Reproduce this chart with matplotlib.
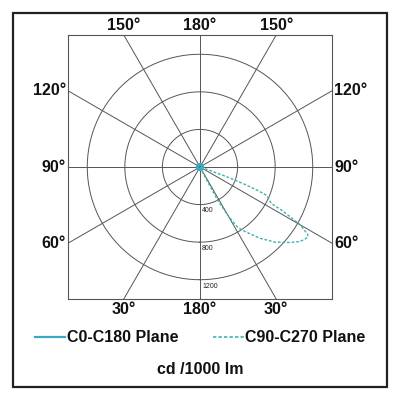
import numpy as np
import matplotlib
matplotlib.use("Agg")
import matplotlib.pyplot as plt
from matplotlib.lines import Line2D
from matplotlib.patches import Rectangle

# ---- data ----
ring_values = [400, 800, 1200]
ring_labels = ["400", "800", "1200"]
spoke_angles = [0, 30, 60, 90, 120, 150, 180, 210, 240, 270, 300, 330]
top_labels = ["150°", "180°", "150°"]
side_labels = ["120°", "90°", "60°"]
bottom_labels = ["30°", "180°", "30°"]

# C90-C270 plane (right side only), gamma measured from nadir
c90_gamma = [0, 10, 20, 25, 27, 28, 30, 32, 35, 40, 45, 50, 53, 55, 57, 58,
             60, 62, 63, 65, 67, 68, 69, 70, 71, 72, 75, 80, 90]
c90_cd = [0, 0, 0, 20, 150, 400, 600, 760, 840, 990, 1130, 1250, 1320, 1350,
          1370, 1350, 1230, 1000, 850, 810, 760, 650, 480, 300, 100, 0, 0, 0, 0]

# C0-C180 plane: tiny intensity around the centre
c0_gamma = [-180, -150, -120, -90, -60, -30, 0, 30, 60, 90, 120, 150, 180]
c0_cd = [28, 28, 28, 28, 28, 28, 28, 28, 28, 28, 28, 28, 28]

legend_labels = ["C0-C180 Plane", "C90-C270 Plane"]
unit_label = "cd /1000 lm"

# ---- style ----
FONT = ["Liberation Sans", "DejaVu Sans"]
GRID = "#555555"
C_SOLID = "#3ba9c6"
C_DASH = "#3db2b0"
LIM = 1405

fig = plt.figure(figsize=(4, 4), dpi=100)
ax = fig.add_axes([68 / 400, 1 - 299 / 400, 264 / 400, 264 / 400])
ax.set_xlim(-LIM, LIM)
ax.set_ylim(-LIM, LIM)
ax.set_aspect("equal")
ax.set_xticks([])
ax.set_yticks([])
for s in ax.spines.values():
    s.set_color(GRID)
    s.set_linewidth(0.8)


def to_xy(gamma_deg, r):
    g = np.radians(np.asarray(gamma_deg, dtype=float))
    r = np.asarray(r, dtype=float)
    return r * np.sin(g), -r * np.cos(g)


# rings
full = np.linspace(0, 360, 361)
for rv in ring_values:
    x, y = to_xy(full, np.full_like(full, rv))
    ax.plot(x, y, color=GRID, lw=0.7, zorder=1)

# spokes
for a in spoke_angles:
    x, y = to_xy([a, a], [0, 3000])
    ax.plot(x, y, color=GRID, lw=0.7, zorder=1)

# ring labels
for rv, lab in zip(ring_values, ring_labels):
    ax.annotate(lab, xy=(0, -rv), xytext=(1.5, -2.0), textcoords="offset points",
                ha="left", va="top", fontsize=5, color="#222222",
                family=["Liberation Sans", "DejaVu Sans"], zorder=3)

# curves
x, y = to_xy(c0_gamma, c0_cd)
ax.plot(x, y, color=C_SOLID, lw=2.2, zorder=4, solid_capstyle="round")
x, y = to_xy(c90_gamma, c90_cd)
ax.plot(x, y, color=C_DASH, lw=1.0, ls=(0, (2.0, 1.3)), zorder=4)

# angle labels around the box
t30 = np.tan(np.radians(30)) * LIM
lab_kw = dict(fontsize=11.5, fontweight="bold", family=FONT, color="#111111",
              textcoords="offset points", annotation_clip=False)
for xv, lab in zip([-t30, 0, t30], top_labels):
    ax.annotate(lab, xy=(xv, LIM), xytext=(0, 6.5), ha="center", va="center", **lab_kw)
for xv, lab in zip([-t30, 0, t30], bottom_labels):
    ax.annotate(lab, xy=(xv, -LIM), xytext=(0, -7.5), ha="center", va="center", **lab_kw)
for yv, lab in zip([t30, 0, -t30], side_labels):
    ax.annotate(lab, xy=(-LIM, yv), xytext=(-1.5, 0), ha="right", va="center", **lab_kw)
    ax.annotate(lab, xy=(LIM, yv), xytext=(1.5, 0), ha="left", va="center", **lab_kw)

# legend
handles = [Line2D([], [], color=C_SOLID, lw=1.6),
           Line2D([], [], color=C_DASH, lw=1.2, ls=(0, (2.0, 1.3)))]
leg = fig.legend(handles, legend_labels, loc="center",
                 bbox_to_anchor=(0.5, 1 - 338 / 400), ncol=2, frameon=False,
                 handlelength=1.9, handletextpad=0.1, columnspacing=2.2,
                 prop=dict(family=FONT, weight="bold", size=11.5))
for t in leg.get_texts():
    t.set_color("#111111")

fig.text(0.5, 1 - 369 / 400, unit_label, ha="center", va="center",
         fontsize=11.5, fontweight="bold", family=FONT, color="#111111")

# outer border
fig.add_artist(Rectangle((13 / 400, 13 / 400), 374 / 400, 374 / 400,
                         transform=fig.transFigure, fill=False,
                         edgecolor="#222222", lw=1.6))

fig.savefig("out.png", dpi=100)
